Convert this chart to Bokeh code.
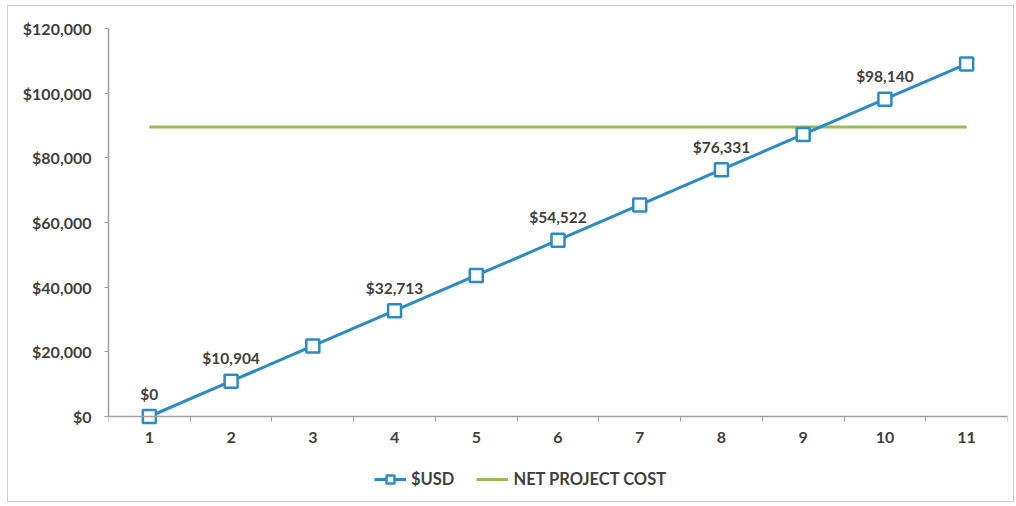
from bokeh.plotting import figure
from bokeh.models import (ColumnDataSource, Range1d, FixedTicker, NumeralTickFormatter,
                          Legend, LegendItem, LabelSet)
from bokeh.core.properties import value
from bokeh.embed import file_html
from bokeh.resources import INLINE

periods = [1, 2, 3, 4, 5, 6, 7, 8, 9, 10, 11]
usd = [0, 10904, 21809, 32713, 43618, 54522, 65427, 76331, 87236, 98140, 109045]
net_project_cost = [89500, 89500, 89500, 89500, 89500, 89500, 89500, 89500, 89500, 89500, 89500]
labeled_periods = [1, 2, 4, 6, 8, 10]
y_ticks = [0, 20000, 40000, 60000, 80000, 100000, 120000]

FONT = "Lato"
TXT = "#3f3f3f"
BLUE = "#2a8cc4"
GREEN = "#9bbb59"

# geometry: value axis occupies 388px; frame extends below it to host axis labels + legend
AXIS_PX = 388
FRAME_H = 470
Y_MAX = y_ticks[-1]
Y_MIN = -Y_MAX * (FRAME_H - AXIS_PX) / AXIS_PX

src = ColumnDataSource(dict(x=periods, usd=usd, cost=net_project_cost))
lab_src = ColumnDataSource(dict(
    x=labeled_periods,
    y=[usd[periods.index(p)] for p in labeled_periods],
    t=["${:,}".format(usd[periods.index(p)]) for p in labeled_periods],
))

p = figure(frame_width=899, frame_height=FRAME_H, output_backend="svg", toolbar_location=None,
           x_range=Range1d(0.5, 11.5), y_range=Range1d(Y_MIN, Y_MAX),
           min_border_left=100, min_border_right=6, min_border_top=22, min_border_bottom=3,
           background_fill_color="white", border_fill_color="white")
p.margin = (5, 0, 0, 7)
p.outline_line_color = None
p.xgrid.visible = False
p.ygrid.visible = False
p.styles = {"border": "1px solid #cfcfcf"}

cost_r = p.line("x", "cost", source=src, line_color=GREEN, line_width=3)
usd_line = p.line("x", "usd", source=src, line_color=BLUE, line_width=3)
usd_pts = p.scatter("x", "usd", source=src, marker="square", size=13,
                    fill_color="white", line_color=BLUE, line_width=2.5)

labels = LabelSet(x="x", y="y", text="t", source=lab_src, text_align="center",
                  text_baseline="bottom", y_offset=14, text_font=value(FONT),
                  text_font_style="bold", text_font_size="15.5px", text_color=TXT)
p.add_layout(labels)

# axes
p.xaxis.fixed_location = 0
p.xaxis.ticker = FixedTicker(ticks=periods, minor_ticks=[v + 0.5 for v in [0] + periods])
p.xaxis.major_tick_line_color = None
p.xaxis.minor_tick_out = 5
p.xaxis.minor_tick_in = 0
p.xaxis.minor_tick_line_color = "#a0a0a0"
p.xaxis.axis_line_color = "#a0a0a0"
p.xaxis.axis_line_width = 1.5
p.xaxis.major_label_standoff = 9

p.yaxis.bounds = (0, Y_MAX)
p.yaxis.ticker = FixedTicker(ticks=y_ticks)
p.yaxis.formatter = NumeralTickFormatter(format="$0,0")
p.yaxis.major_tick_out = 4
p.yaxis.major_tick_in = 0
p.yaxis.minor_tick_line_color = None
p.yaxis.major_tick_line_color = "#a0a0a0"
p.yaxis.axis_line_color = "#a0a0a0"
p.yaxis.axis_line_width = 1.5
p.yaxis.major_label_standoff = 13

for ax in (p.xaxis, p.yaxis):
    ax.major_label_text_font = FONT
    ax.major_label_text_font_style = "bold"
    ax.major_label_text_font_size = "16px"
    ax.major_label_text_color = TXT

legend = Legend(items=[LegendItem(label="$USD", renderers=[usd_line, usd_pts]),
                       LegendItem(label="NET PROJECT COST", renderers=[cost_r])],
                orientation="horizontal", location=(266, 9),
                label_text_font=FONT, label_text_font_style="bold",
                label_text_font_size="16.5px", label_text_color=TXT,
                border_line_color=None, background_fill_alpha=0,
                glyph_width=32, spacing=22, label_standoff=5, margin=0, padding=4)
p.add_layout(legend)

open("out.html", "w").write(file_html(p, INLINE))
